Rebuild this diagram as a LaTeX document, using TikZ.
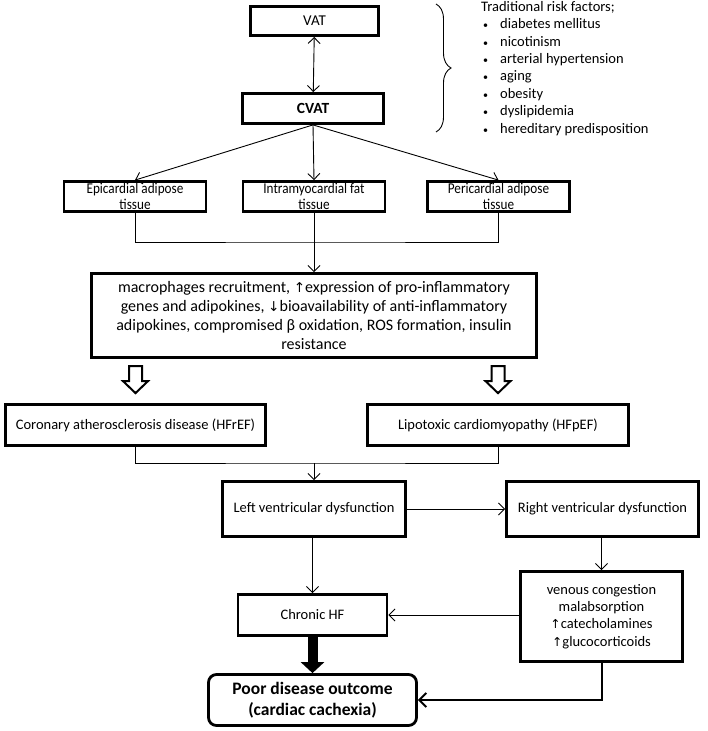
\documentclass[tikz,border=0pt]{standalone}
\usepackage{fontspec}
\setmainfont{Carlito}
\newfontfamily\narrowfont[FakeStretch=0.88]{Carlito}
\newfontfamily\arrowfont[Scale=0.85]{DejaVu Sans}
\usetikzlibrary{arrows.meta,decorations.pathreplacing,calc}

\newcommand{\riskitem}[1]{\hspace*{2pt}\makebox[17pt][l]{\fontsize{10}{10}\selectfont\textbullet}#1}
\newcommand{\up}{{\arrowfont ↑}}
\newcommand{\down}{{\arrowfont ↓}}

\tikzset{
  box/.style={draw, line width=2.8pt, align=center, inner sep=1pt,
    font=\fontsize{14.5}{17.4}\selectfont},
  tissue/.style={box, minimum width=142, minimum height=30,
    font=\narrowfont\fontsize{15}{15.8}\selectfont},
  conn/.style={line width=0.9pt, -{Straight Barb[length=6pt,width=12pt]}},
  link/.style={line width=0.9pt},
  hollowarrow/.style={draw, line width=2pt, fill=white},
  bigarrow/.style={line width=10pt, -{Triangle[length=11pt,width=23pt]}},
  outcome/.style={box, rounded corners=8pt, font=\fontsize{17.5}{21.5}\selectfont\bfseries}
}

\begin{document}
\begin{tikzpicture}[x=1pt,y=-1pt]
  \useasboundingbox (0,0) rectangle (707,731);

  % adipose tissue
  \node[box, minimum width=128, minimum height=29, font=\fontsize{15}{17}\selectfont] (vat) at (314.5,21) {VAT};
  \node[box, minimum width=141, minimum height=30, font=\fontsize{15.5}{17}\selectfont\bfseries] (cvat) at (313,108.5) {CVAT};

  \node[tissue] (epi) at (135,196.5) {Epicardial adipose\\tissue};
  \node[tissue] (intra) at (314,196.5) {Intramyocardial fat\\tissue};
  \node[tissue] (peri) at (498.5,196.5) {Pericardial adipose\\tissue};

  % risk factors
  \draw[line width=0.9pt, decorate, decoration={brace, amplitude=15pt}] (436,4) -- (436,132);
  \node[anchor=north west, align=left, inner sep=0pt, font=\fontsize{14.5}{17.4}\selectfont] (risk) at (481,1) {%
    Traditional risk factors;\\
    \riskitem{diabetes mellitus}\\
    \riskitem{nicotinism}\\
    \riskitem{arterial hypertension}\\
    \riskitem{aging}\\
    \riskitem{obesity}\\
    \riskitem{dyslipidemia}\\
    \riskitem{hereditary predisposition}};

  % mechanisms
  \node[box, minimum width=445, minimum height=84, font=\fontsize{16}{18.9}\selectfont] (mech) at (314,315.5) {%
    macrophages recruitment, \up expression of pro-inflammatory\\
    genes and adipokines, \down bioavailability of anti-inflammatory\\
    adipokines, compromised β oxidation, ROS formation, insulin\\
    resistance};

  \node[box, minimum width=260, minimum height=41] (cor) at (135.5,425) {Coronary atherosclerosis disease (HFrEF)};
  \node[box, minimum width=261, minimum height=41] (lip) at (498,425) {Lipotoxic cardiomyopathy (HFpEF)};

  % heart failure
  \node[box, minimum width=183, minimum height=55] (lvd) at (314,509) {Left ventricular dysfunction};
  \node[box, minimum width=192, minimum height=55] (rvd) at (602.5,509) {Right ventricular dysfunction};
  \node[box, minimum width=149, minimum height=41] (chf) at (312.5,615) {Chronic HF};
  \node[box, minimum width=162, minimum height=90] (ven) at (601.5,616.5) {%
    venous congestion\\malabsorption\\\up catecholamines\\\up glucocorticoids};
  \node[outcome, minimum width=208, minimum height=51] (poor) at (312.5,700) {Poor disease outcome\\(cardiac cachexia)};

  % connectors
  \draw[line width=0.9pt, {Straight Barb[length=6pt,width=12pt]}-{Straight Barb[length=6pt,width=12pt]}] (vat) -- (cvat);
  \foreach \n in {epi,intra,peri}
    \draw[conn] (cvat.south) -- (\n.north);

  \coordinate (join1) at (314,242);
  \draw[link] (epi.south) |- (join1) -| (peri.south);
  \draw[conn] (intra.south) -- (mech.north);

  \foreach \n in {cor,lip}
    \draw[hollowarrow] ($(\n.north)+(-6.5,-37)$) -- ++(13,0) -- ++(0,15) -- ++(6,0)
      -- ++(-12.5,12) -- ++(-12.5,-12) -- ++(6,0) -- cycle;

  \coordinate (join2) at (314,463);
  \draw[link] (cor.south) |- (join2) -| (lip.south);
  \draw[conn] (join2) -- (lvd.north);

  \draw[conn] (lvd) -- (rvd);
  \draw[conn] (rvd.south -| ven.north) -- (ven.north);
  \draw[conn] (lvd.south -| chf.north) -- (chf.north);
  \draw[conn] (ven.west |- chf.east) -- (chf.east);
  \draw[bigarrow] (chf.south) -- (poor.north);
  \draw[line width=2pt, -{Straight Barb[length=7pt,width=14pt]}] (ven.south) |- (poor.east);
\end{tikzpicture}
\end{document}
